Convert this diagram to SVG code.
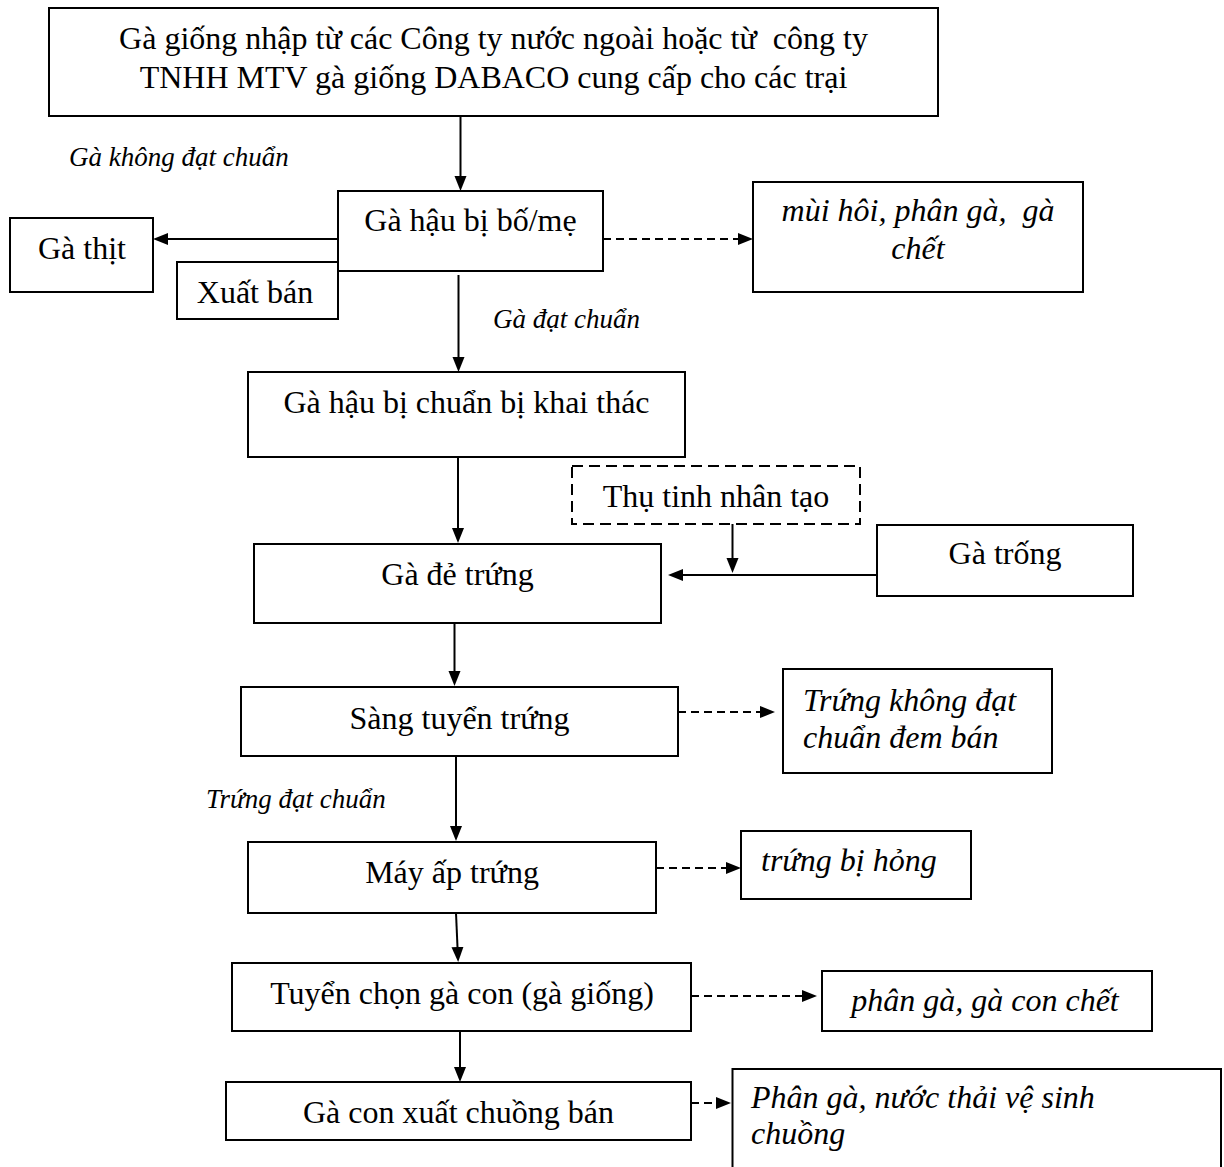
<svg xmlns="http://www.w3.org/2000/svg" width="1224" height="1167" viewBox="0 0 1224 1167">
<style>
  .box { fill: #fff; stroke: #000; stroke-width: 2; }
  .dbox { fill: #fff; stroke: #000; stroke-width: 2; stroke-dasharray: 11 6; }
  .t { font-family: "Liberation Serif", "Times New Roman", serif; font-size: 32px; fill: #000; white-space: pre; }
  .c { text-anchor: middle; }
  .i { font-style: italic; }
  .lbl { font-family: "Liberation Serif", "Times New Roman", serif; font-size: 27px; font-style: italic; fill: #000; }
  .ln { fill: none; stroke: #000; stroke-width: 2; }
  .dl { fill: none; stroke: #000; stroke-width: 2; stroke-dasharray: 8 5; }
</style>
<defs>
  <marker id="ah" markerWidth="16" markerHeight="13" refX="7" refY="6" orient="auto" markerUnits="userSpaceOnUse">
    <path d="M0,0 L15,6 L0,12 z" fill="#000"/>
  </marker>
</defs>
<rect width="1224" height="1167" fill="#fff"/>

<g id="connectors">
  <line class="ln" x1="460.5" y1="116" x2="460.5" y2="183" marker-end="url(#ah)"/>
  <line class="ln" x1="338" y1="239" x2="161" y2="239" marker-end="url(#ah)"/>
  <line class="dl" x1="603" y1="239" x2="745" y2="239" marker-end="url(#ah)"/>
  <line class="ln" x1="458.5" y1="275" x2="458.5" y2="364" marker-end="url(#ah)"/>
  <line class="ln" x1="458" y1="457" x2="458" y2="535" marker-end="url(#ah)"/>
  <line class="ln" x1="877" y1="575" x2="676" y2="575" marker-end="url(#ah)"/>
  <line class="ln" x1="732.5" y1="524" x2="732.5" y2="565" marker-end="url(#ah)"/>
  <line class="ln" x1="454.5" y1="623" x2="454.5" y2="678" marker-end="url(#ah)"/>
  <line class="dl" x1="678" y1="712" x2="767" y2="712" marker-end="url(#ah)"/>
  <line class="ln" x1="456" y1="756" x2="456" y2="833" marker-end="url(#ah)"/>
  <line class="dl" x1="656" y1="868" x2="733" y2="868" marker-end="url(#ah)"/>
  <line class="ln" x1="456" y1="913" x2="457.8" y2="954" marker-end="url(#ah)"/>
  <line class="dl" x1="691" y1="996" x2="809" y2="996" marker-end="url(#ah)"/>
  <line class="ln" x1="460" y1="1031" x2="460" y2="1074" marker-end="url(#ah)"/>
  <line class="dl" x1="691" y1="1103" x2="723" y2="1103" marker-end="url(#ah)"/>
</g>

<g id="labels">
  <text class="lbl" x="69" y="166">Gà không đạt chuẩn</text>
  <text class="lbl" x="493" y="328">Gà đạt chuẩn</text>
  <text class="lbl" x="206" y="808">Trứng đạt chuẩn</text>
</g>

<g id="n-source">
  <rect class="box" x="49" y="8" width="889" height="108"/>
  <text class="t c" x="493.5" y="49">Gà giống nhập từ các Công ty nước ngoài hoặc từ  công ty</text>
  <text class="t c" x="493.5" y="88">TNHH MTV gà giống DABACO cung cấp cho các trại</text>
</g>
<g id="n-haubi">
  <rect class="box" x="338" y="191" width="265" height="80"/>
  <text class="t c" x="470.5" y="231">Gà hậu bị bố/mẹ</text>
</g>
<g id="n-gathit">
  <rect class="box" x="10" y="218" width="143" height="74"/>
  <text class="t c" x="82" y="259">Gà thịt</text>
</g>
<g id="n-xuatban">
  <rect class="box" x="177" y="262" width="161" height="57"/>
  <text class="t c" x="255" y="303">Xuất bán</text>
</g>
<g id="n-muihoi">
  <rect class="box" x="753" y="182" width="330" height="110"/>
  <text class="t c i" x="918" y="221">mùi hôi, phân gà,  gà</text>
  <text class="t c i" x="918" y="259">chết</text>
</g>
<g id="n-khaithac">
  <rect class="box" x="248" y="372" width="437" height="85"/>
  <text class="t c" x="466.5" y="413">Gà hậu bị chuẩn bị khai thác</text>
</g>
<g id="n-thutinh">
  <rect class="dbox" x="572" y="466" width="288" height="58"/>
  <text class="t c" x="716" y="507">Thụ tinh nhân tạo</text>
</g>
<g id="n-detrung">
  <rect class="box" x="254" y="544" width="407" height="79"/>
  <text class="t c" x="457.5" y="585">Gà đẻ trứng</text>
</g>
<g id="n-gatrong">
  <rect class="box" x="877" y="525" width="256" height="71"/>
  <text class="t c" x="1005" y="564">Gà trống</text>
</g>
<g id="n-sang">
  <rect class="box" x="241" y="687" width="437" height="69"/>
  <text class="t c" x="459.5" y="729">Sàng tuyển trứng</text>
</g>
<g id="n-khongdat">
  <rect class="box" x="783" y="669" width="269" height="104"/>
  <text class="t i" x="803" y="711">Trứng không đạt</text>
  <text class="t i" x="803" y="748">chuẩn đem bán</text>
</g>
<g id="n-mayap">
  <rect class="box" x="248" y="842" width="408" height="71"/>
  <text class="t c" x="452" y="883">Máy ấp trứng</text>
</g>
<g id="n-honghong">
  <rect class="box" x="741" y="831" width="230" height="68"/>
  <text class="t i" x="761" y="871">trứng bị hỏng</text>
</g>
<g id="n-tuyenchon">
  <rect class="box" x="232" y="963" width="459" height="68"/>
  <text class="t c" x="462" y="1004">Tuyển chọn gà con (gà giống)</text>
</g>
<g id="n-gaconchet">
  <rect class="box" x="822" y="971" width="330" height="60"/>
  <text class="t c i" x="985" y="1011">phân gà, gà con chết</text>
</g>
<g id="n-xuatchuong">
  <rect class="box" x="226" y="1082" width="465" height="58"/>
  <text class="t c" x="458.5" y="1123">Gà con xuất chuồng bán</text>
</g>
<g id="n-nuocthai">
  <rect class="box" x="732.5" y="1069" width="488.5" height="120"/>
  <text class="t i" x="751" y="1108">Phân gà, nước thải vệ sinh</text>
  <text class="t i" x="751" y="1144">chuồng</text>
</g>
</svg>
